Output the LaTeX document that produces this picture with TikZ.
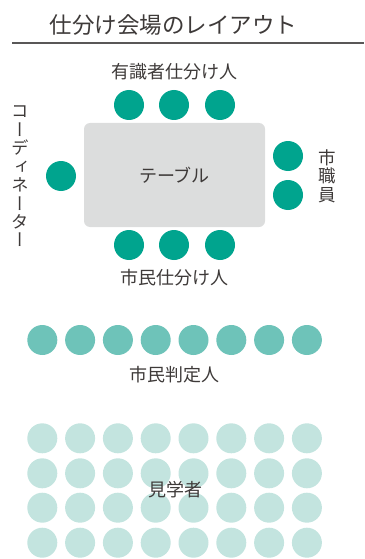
\documentclass[tikz,border=0pt]{standalone}
\usepackage{fontspec}
\setmainfont{Noto Sans CJK JP}
\newfontfamily\cjkv[RawFeature=+vert]{Noto Sans CJK JP}
\definecolor{txt}{HTML}{3E3A39}
\definecolor{rulec}{HTML}{595757}
\definecolor{tealA}{HTML}{00A48E}
\definecolor{tealB}{HTML}{6EC3B9}
\definecolor{tealC}{HTML}{C3E4DF}
\definecolor{tablec}{HTML}{DCDDDD}
\begin{document}
\begin{tikzpicture}[x=1pt,y=-1pt,
  seat/.style={circle,draw=none,inner sep=0pt,minimum size=30pt},
  seatA/.style={seat,fill=tealA},
  seatB/.style={seat,fill=tealB},
  seatC/.style={seat,fill=tealC},
  lbl/.style={text=txt,font=\fontsize{18}{18}\selectfont,inner sep=0pt},
  vlbl/.style={text=txt,font=\fontsize{17.5}{18.4}\selectfont\cjkv,inner sep=0pt,align=center}]
\useasboundingbox (0,0) rectangle (364,559);
% title
\node[text=txt,font=\fontsize{22.5}{22.5}\selectfont,inner sep=0pt] (title) at (173.5,25) {仕分け会場のレイアウト};
\coordinate (rl) at (12,43);
\coordinate (rr) at (364,43);
\draw[rulec,line width=1.2pt] (rl) -- (rr);
% table
\node[fill=tablec,rounded corners=6pt,minimum width=181pt,minimum height=104pt,inner sep=0pt] (table) at (174.5,175) {};
\node[lbl] (tablelbl) at (174.5,175) {テーブル};
% expert seats
\node[lbl] (expert) at (174,72) {有識者仕分け人};
\node[seatA] (e1) at (129,105) {};
\node[seatA] (e2) at (174,105) {};
\node[seatA] (e3) at (220,105) {};
% citizen seats
\node[seatA] (c1) at (129,245) {};
\node[seatA] (c2) at (174,245) {};
\node[seatA] (c3) at (220,245) {};
\node[lbl] (citizen) at (174,278) {市民仕分け人};
% coordinator
\node[seatA] (co) at (61,176) {};
\node[vlbl] (colbl) at (20,176.5) {コ\\ー\\デ\\ィ\\ネ\\ー\\タ\\ー};
% staff
\node[seatA] (s1) at (288,156) {};
\node[seatA] (s2) at (288,195) {};
\node[vlbl] (slbl) at (327,176) {市\\職\\員};
% judges
\foreach \i in {0,...,7} {
  \node[seatB] (j\i) at (42.3+37.8*\i,340) {};
}
\node[lbl] (judge) at (174,375) {市民判定人};
% audience
\foreach \r/\yy in {0/438.3,1/473.3,2/507.7,3/542.7} {
  \foreach \i in {0,...,7} {
    \node[seatC] (a\r\i) at (42.3+37.8*\i,\yy) {};
  }
}
\node[lbl,fill=none] (aud) at (175,490) {見学者};
\end{tikzpicture}
\end{document}
